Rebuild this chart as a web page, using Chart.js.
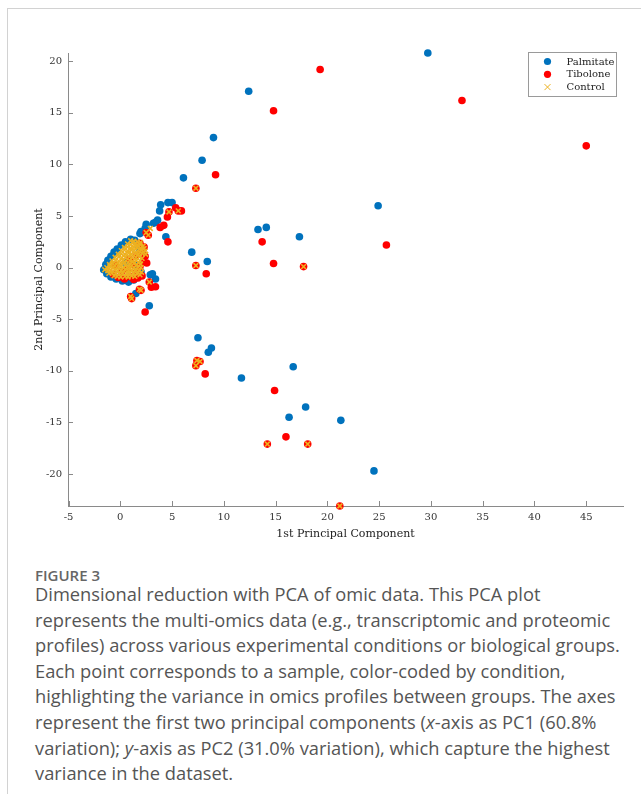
<!DOCTYPE html>
<html>
<head>
<meta charset="utf-8">
<script src="https://cdn.jsdelivr.net/npm/chart.js@4.4.0/dist/chart.umd.min.js"></script>
<style>
  body { margin: 0; background: #fff; width: 641px; height: 794px; position: relative; overflow: hidden; }
  #frame { position: absolute; left: 7px; top: 8px; right: 0; bottom: 0; border-left: 1px solid #d2d2d2; border-top: 1px solid #d2d2d2; }
  #plot { position: absolute; left: 0; top: 0; }
  #cap { position: absolute; left: 35px; top: 564px; font-family: "Open Sans", sans-serif; color: #555; }
  #cap .fig { font-size: 15px; font-weight: 600; line-height: 22px; color: #666; margin-bottom: -5px; }
  #cap .ln { font-size: 18.3px; line-height: 25.6px; white-space: nowrap; }
</style>
</head>
<body>
<div id="frame"></div>
<canvas id="plot" width="641" height="545"></canvas>
<div id="cap">
  <div class="fig">FIGURE 3</div>
  <div class="ln">Dimensional reduction with PCA of omic data. This PCA plot</div>
  <div class="ln">represents the multi-omics data (e.g., transcriptomic and proteomic</div>
  <div class="ln">profiles) across various experimental conditions or biological groups.</div>
  <div class="ln">Each point corresponds to a sample, color-coded by condition,</div>
  <div class="ln">highlighting the variance in omics profiles between groups. The axes</div>
  <div class="ln">represent the first two principal components (<i>x</i>-axis as PC1 (60.8%</div>
  <div class="ln">variation); <i>y</i>-axis as PC2 (31.0% variation), which capture the highest</div>
  <div class="ln">variance in the dataset.</div>
</div>
<script>
// PC1 / PC2 scores
var palmitate = [
  [29.7,20.8],[12.4,17.1],[9.0,12.6],[7.9,10.4],[6.1,8.7],[24.9,6.0],[13.3,3.7],[14.1,3.9],
  [17.3,3.0],[6.9,1.5],[8.4,0.6],[7.5,-6.8],[8.8,-7.8],[8.5,-8.2],[11.7,-10.7],[16.7,-9.6],
  [17.9,-13.5],[16.3,-14.5],[21.3,-14.8],[24.5,-19.7],
  [3.9,6.1],[4.6,6.3],[5.0,6.3],[3.8,5.5],[3.6,4.6],[3.4,4.4],[3.2,4.3],[2.5,4.2],[2.4,3.8],
  [2.0,3.5],[1.9,3.3],[4.4,3.0],[2.2,0.6],[2.9,-0.7],[3.4,-1.1],[3.1,-0.6],[1.5,-2.5],[2.8,-3.7],
  [-1.6,-0.2],[-1.4,0.3],[-1.2,0.7],[-0.9,1.1],[-0.6,1.5],[-0.3,1.8],[0.1,2.2],[0.5,2.5],
  [1.0,2.75],[1.4,2.65],[-1.3,-0.6],[-0.9,-0.9],[-0.4,-1.1],[0.2,-1.3],[0.8,-1.4],[1.3,-1.2],
  [0.5,0.5],[1.8,1.9],[1.6,0.2],[2.0,-0.4]
];
var tibolone = [
  [19.3,19.2],[33.0,16.2],[45.0,11.8],[14.8,15.2],[9.2,9.0],[7.3,7.7],[13.7,2.5],[25.7,2.2],
  [7.3,0.2],[8.3,-0.6],[14.8,0.4],[17.7,0.1],[7.4,-9.0],[7.7,-9.1],[7.3,-9.5],[8.2,-10.3],
  [14.9,-11.9],[16.0,-16.4],[14.2,-17.1],[18.1,-17.1],[21.2,-23.1],
  [5.35,5.8],[5.6,5.5],[5.9,5.5],[4.7,5.4],[4.55,4.9],[4.2,4.1],[3.85,3.9],[2.7,3.15],[2.5,3.4],
  [4.6,2.5],[2.55,0.45],[2.8,-1.4],[3.4,-1.85],[3.0,-1.9],[2.0,-2.2],[1.85,-2.1],[1.0,-2.8],
  [1.1,-3.0],[2.4,-4.3],
  [2.4,1.1],[2.2,0.55],[1.9,0.1],[2.15,1.6],[1.5,-0.5],[1.0,-0.9],[0.4,-1.1],[-0.2,-0.95],
  [-0.7,-0.65],[1.2,0.3],[0.7,-0.2],[1.7,-1.0],[0.1,-0.4],[-0.5,0.2],[1.6,1.2],[2.3,2.0],
  [1.9,2.35],[0.9,0.8],[1.3,-1.15],[2.1,-0.8]
];
var control = [
  [7.3,7.7],[7.3,0.2],[17.7,0.1],[7.4,-9.0],[7.7,-9.1],[7.3,-9.5],[14.2,-17.1],[18.1,-17.1],
  [21.2,-23.1],[5.6,5.5],[4.7,5.4],[2.7,3.15],[2.5,3.4],[2.9,3.8],[2.8,-1.4],[2.0,-2.2],
  [1.85,-2.1],[1.0,-2.8],[1.1,-3.0],
  [1.0,2.6],[1.3,2.55],[1.65,2.5],[1.95,2.45],
  [0.7,2.3],[1.0,2.25],[1.35,2.3],[1.6,2.2],[1.9,2.25],[2.2,2.1],
  [0.4,1.95],[0.7,2.0],[1.0,1.9],[1.3,2.0],[1.6,1.95],[1.95,1.9],[2.3,1.85],
  [0.1,1.65],[0.4,1.7],[0.75,1.6],[1.05,1.7],[1.35,1.65],[1.7,1.6],[2.0,1.7],[2.4,1.6],
  [-0.2,1.3],[0.1,1.35],[0.45,1.3],[0.8,1.4],[1.1,1.3],[1.45,1.35],[1.75,1.3],[2.1,1.4],[2.45,1.3],
  [-0.5,1.0],[-0.15,1.05],[0.15,0.95],[0.5,1.0],[0.85,1.05],[1.15,0.95],[1.5,1.0],[1.85,1.05],[2.1,0.9],
  [-0.8,0.65],[-0.45,0.7],[-0.1,0.6],[0.25,0.7],[0.55,0.65],[0.9,0.7],[1.2,0.6],[1.55,0.7],[1.9,0.65],
  [-1.05,0.3],[-0.75,0.4],[-0.4,0.35],[-0.05,0.3],[0.3,0.4],[0.6,0.3],[0.95,0.35],[1.3,0.4],[1.6,0.3],[1.95,0.35],
  [-1.3,0.0],[-1.0,0.1],[-0.65,0.05],[-0.35,0.0],[0.0,0.1],[0.35,0.05],[0.7,0.0],[1.0,0.1],[1.35,0.0],[1.7,0.05],[2.0,0.0],
  [-1.5,-0.2],[-1.2,-0.3],[-0.9,-0.25],[-0.55,-0.2],[-0.25,-0.3],[0.1,-0.25],[0.45,-0.2],[0.8,-0.3],[1.1,-0.25],[1.45,-0.2],[1.8,-0.3],[2.05,-0.45],
  [-1.1,-0.55],[-0.8,-0.5],[-0.45,-0.6],[-0.1,-0.55],[0.2,-0.5],[0.6,-0.6],[0.9,-0.55],[1.25,-0.5],[1.6,-0.6],[1.9,-0.7],
  [-0.6,-0.8],[-0.3,-0.85],[0.05,-0.9],[0.45,-0.85],[0.75,-0.9],[1.1,-0.8],[1.4,-0.85]
];
var groupNames = ['Palmitate', 'Tibolone', 'Control'];
var xTicks = [-5, 0, 5, 10, 15, 20, 25, 30, 35, 40, 45];
var yTicks = [-20, -15, -10, -5, 0, 5, 10, 15, 20];
var xLimits = [-5.05, 48.55];
var yLimits = [-23.1, 20.8];

var blue = '#0072BD', red = '#FF0000', gold = '#EDB120', axisGray = '#8a8a8a';
var serif = '"DejaVu Serif", serif';

function pts(arr) {
  return arr.map(function (p) { return { x: p[0], y: p[1] }; });
}

// inward tick marks + boxed legend in the top right, MATLAB style
var extras = {
  id: 'extras',
  afterDraw: function (chart) {
    var c = chart.ctx, a = chart.chartArea;
    var sx = chart.scales.x, sy = chart.scales.y;
    c.save();
    c.strokeStyle = axisGray;
    c.lineWidth = 1;
    c.beginPath();
    xTicks.forEach(function (v) {
      var px = Math.round(sx.getPixelForValue(v)) + 0.5;
      c.moveTo(px, a.bottom); c.lineTo(px, a.bottom - 5);
    });
    yTicks.forEach(function (v) {
      var py = Math.round(sy.getPixelForValue(v)) + 0.5;
      c.moveTo(a.left, py); c.lineTo(a.left + 5, py);
    });
    c.stroke();

    var bw = 88, bh = 44;
    var bx = Math.round(a.right - 7 - bw) + 0.5, by = Math.round(a.top - 1) + 0.5;
    c.fillStyle = '#fff';
    c.fillRect(bx, by, bw, bh);
    c.strokeStyle = '#9a9a9a';
    c.strokeRect(bx, by, bw, bh);
    c.font = '10px ' + serif;
    c.textBaseline = 'middle';
    chart.data.datasets.forEach(function (ds, i) {
      var ly = by + 9 + i * 12.8, lx = bx + 19;
      if (ds.pointStyle === 'crossRot') {
        c.strokeStyle = ds.borderColor; c.lineWidth = 1;
        c.beginPath();
        c.moveTo(lx - 3, ly - 3); c.lineTo(lx + 3, ly + 3);
        c.moveTo(lx + 3, ly - 3); c.lineTo(lx - 3, ly + 3);
        c.stroke();
      } else {
        c.fillStyle = ds.backgroundColor;
        c.beginPath(); c.arc(lx, ly, 3.6, 0, Math.PI * 2); c.fill();
      }
      c.fillStyle = '#222';
      c.fillText(ds.label, bx + 38, ly + 0.5);
    });
    c.restore();
  }
};

var ctx = document.getElementById('plot').getContext('2d');
new Chart(ctx, {
  type: 'scatter',
  data: {
    datasets: [
      { label: groupNames[0], data: pts(palmitate), order: 3, pointStyle: 'circle', pointRadius: 3.8,
        backgroundColor: blue, borderColor: blue, borderWidth: 0, clip: false },
      { label: groupNames[1], data: pts(tibolone), order: 2, pointStyle: 'circle', pointRadius: 3.8,
        backgroundColor: red, borderColor: red, borderWidth: 0, clip: false },
      { label: groupNames[2], data: pts(control), order: 1, pointStyle: 'crossRot', pointRadius: 3.4,
        backgroundColor: gold, borderColor: gold, borderWidth: 1.6, clip: false }
    ]
  },
  options: {
    responsive: false,
    animation: false,
    devicePixelRatio: 1,
    layout: { padding: { left: 0, top: 53, right: 18, bottom: 0 } },
    plugins: { legend: { display: false }, tooltip: { enabled: false } },
    scales: {
      x: {
        type: 'linear', min: xLimits[0], max: xLimits[1],
        afterBuildTicks: function (s) { s.ticks = xTicks.map(function (v) { return { value: v }; }); },
        afterFit: function (s) { s.height = 39; },
        grid: { display: false, drawTicks: false },
        border: { display: true, color: axisGray, width: 1 },
        ticks: { color: '#333', font: { family: serif, size: 10 }, padding: 5, maxRotation: 0 },
        title: { display: true, text: '1st Principal Component', color: '#222',
                 font: { family: serif, size: 11 }, padding: { top: 0, bottom: 4 } }
      },
      y: {
        type: 'linear', min: yLimits[0], max: yLimits[1],
        afterBuildTicks: function (s) { s.ticks = yTicks.map(function (v) { return { value: v }; }); },
        afterFit: function (s) { s.width = 68; },
        grid: { display: false, drawTicks: false },
        border: { display: true, color: axisGray, width: 1 },
        ticks: { color: '#333', font: { family: serif, size: 10 }, padding: 6 },
        title: { display: true, text: '2nd Principal Component', color: '#222',
                 font: { family: serif, size: 11 }, padding: { top: 33, bottom: 0 } }
      }
    }
  },
  plugins: [extras]
});
</script>
</body>
</html>
